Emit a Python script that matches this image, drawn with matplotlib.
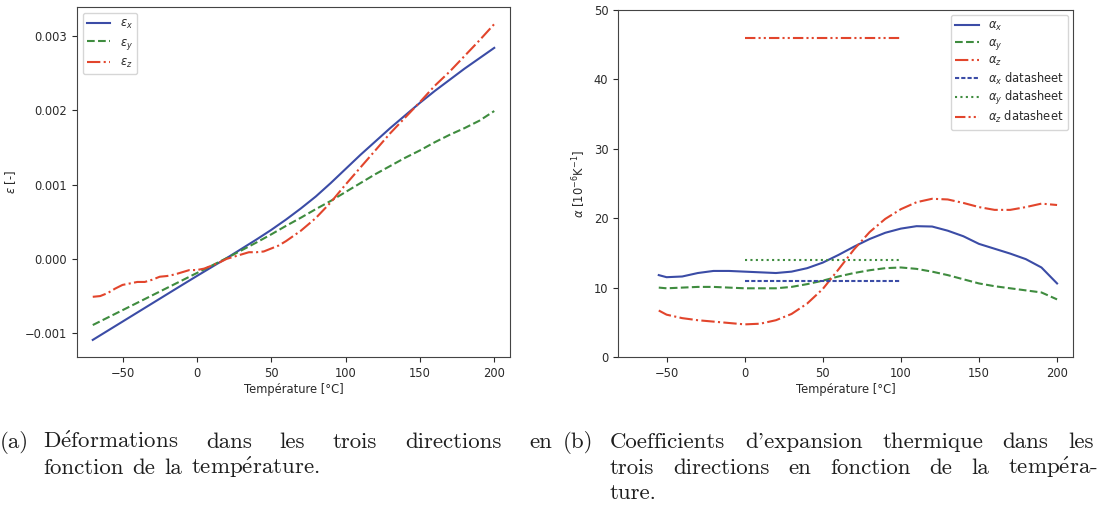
import numpy as np
import matplotlib
matplotlib.use("Agg")
import matplotlib.pyplot as plt

# ---------------- data ----------------
T_eps = [-70, -60, -50, -40, -30, -20, -10, 0, 10, 20, 30, 40, 50, 60, 70, 80, 90,
         100, 110, 120, 130, 140, 150, 160, 170, 180, 190, 200]
eps_x = [-1.09, -0.967, -0.844, -0.721, -0.598, -0.475, -0.352, -0.23, -0.11, 0.01,
         0.135, 0.26, 0.39, 0.53, 0.68, 0.84, 1.02, 1.21, 1.40, 1.58, 1.76, 1.93,
         2.10, 2.26, 2.41, 2.56, 2.70, 2.84]
eps_y = [-0.89, -0.79, -0.69, -0.59, -0.49, -0.39, -0.29, -0.19, -0.09, 0.01,
         0.115, 0.22, 0.33, 0.445, 0.555, 0.67, 0.78, 0.90, 1.02, 1.14, 1.25,
         1.36, 1.46, 1.57, 1.67, 1.76, 1.86, 1.99]
T_epsz = [-70, -65, -60, -55, -50, -45, -40, -35, -30, -25, -20, -15, -10, -5, 0,
          5, 10, 15, 20, 25, 30, 35, 40, 45, 50, 55, 60, 70, 80, 90, 100, 110, 120,
          130, 140, 150, 160, 170, 180, 190, 200]
eps_z = [-0.51, -0.50, -0.46, -0.40, -0.35, -0.33, -0.31, -0.31, -0.28, -0.24,
         -0.23, -0.21, -0.18, -0.15, -0.15, -0.13, -0.09, -0.05, 0.0, 0.03, 0.06,
         0.09, 0.09, 0.10, 0.14, 0.18, 0.24, 0.38, 0.55, 0.76, 1.00, 1.23, 1.46,
         1.69, 1.90, 2.11, 2.33, 2.52, 2.73, 2.94, 3.16]

T_alpha = [-55, -50, -40, -30, -20, -10, 0, 10, 20, 30, 40, 50, 60, 70, 80, 90, 100,
           110, 120, 130, 140, 150, 160, 170, 180, 190, 200]
alpha_x = [11.8, 11.5, 11.6, 12.1, 12.4, 12.4, 12.3, 12.2, 12.1, 12.3, 12.8, 13.6,
           14.7, 15.9, 17.0, 17.9, 18.5, 18.85, 18.8, 18.2, 17.4, 16.3, 15.6, 14.9,
           14.1, 12.9, 10.6]
alpha_y = [10.0, 9.9, 10.0, 10.1, 10.1, 10.0, 9.9, 9.9, 9.9, 10.1, 10.5, 11.0,
           11.6, 12.1, 12.5, 12.8, 12.9, 12.7, 12.3, 11.8, 11.2, 10.6, 10.2, 9.9,
           9.6, 9.3, 8.3]
alpha_z = [6.7, 6.1, 5.6, 5.3, 5.1, 4.9, 4.7, 4.8, 5.3, 6.2, 7.7, 9.8, 12.6, 15.5,
           18.0, 19.9, 21.3, 22.3, 22.8, 22.7, 22.2, 21.6, 21.2, 21.2, 21.6, 22.1, 21.9]

T_ds = [0, 100]
alpha_x_ds = [11, 11]
alpha_y_ds = [14, 14]
alpha_z_ds = [46, 46]

eps_ticks = [-0.001, 0.0, 0.001, 0.002, 0.003]
eps_ticklabels = ['\u22120.001', '0.000', '0.001', '0.002', '0.003']
T_ticks = [-50, 0, 50, 100, 150, 200]
alpha_ticks = [0, 10, 20, 30, 40, 50]

# ---------------- style ----------------
BLUE = '#3b4ca6'
GREEN = '#3f8c3f'
RED = '#e2452c'
TXT = '#2a2a2a'
FS = 8.3

plt.rcParams.update({
    'font.family': ['DejaVu Sans'],
    'font.size': FS,
    'text.color': TXT,
    'axes.labelcolor': TXT,
    'xtick.color': TXT,
    'ytick.color': TXT,
    'axes.edgecolor': '#444444',
})

W, H = 1110, 514
fig = plt.figure(figsize=(W / 100, H / 100), dpi=100)

ax1 = fig.add_axes([77 / W, 1 - 357 / H, 433 / W, 350 / H])
ax2 = fig.add_axes([618 / W, 1 - 357 / H, 455 / W, 347 / H])

lw = 1.5
ax1.plot(T_eps, np.array(eps_x) * 1e-3, color=BLUE, lw=lw, ls='-', label=r'$\varepsilon_x$')
ax1.plot(T_eps, np.array(eps_y) * 1e-3, color=GREEN, lw=lw, ls='--', label=r'$\varepsilon_y$')
ax1.plot(T_epsz, np.array(eps_z) * 1e-3, color=RED, lw=lw, ls='-.', label=r'$\varepsilon_z$')
ax1.set_xlim(-80.6, 210.6)
ax1.set_ylim(-0.00132, 0.00339)
ax1.set_xticks(T_ticks)
ax1.set_yticks(eps_ticks)
ax1.set_yticklabels(eps_ticklabels)
ax1.set_xlabel('Température [°C]', labelpad=2)
ax1.set_ylabel(r'$\varepsilon$ [-]', labelpad=5)
ax1.legend(loc='upper left', fontsize=FS, handlelength=2.0, labelspacing=0.35)

ax2.plot(T_alpha, alpha_x, color=BLUE, lw=lw, ls='-', label=r'$\alpha_x$')
ax2.plot(T_alpha, alpha_y, color=GREEN, lw=lw, ls='--', label=r'$\alpha_y$')
ax2.plot(T_alpha, alpha_z, color=RED, lw=lw, ls='-.', label=r'$\alpha_z$')
ax2.plot(T_ds, alpha_x_ds, color=BLUE, lw=lw, ls=(0, (2, 1)), label=r'$\alpha_x$ datasheet')
ax2.plot(T_ds, alpha_y_ds, color=GREEN, lw=lw, ls=(0, (1, 1.6)), label=r'$\alpha_y$ datasheet')
ax2.plot(T_ds, alpha_z_ds, color=RED, lw=lw, ls=(0, (5, 1.5, 1, 1.5, 1, 1.5)),
         label=r'$\alpha_z$ datasheet')
ax2.set_xlim(-81.1, 210.2)
ax2.set_ylim(0, 50)
ax2.set_xticks(T_ticks)
ax2.set_yticks(alpha_ticks)
ax2.set_xlabel('Température [°C]', labelpad=2)
ax2.set_ylabel(r'$\alpha$ [$10^{-6}$K$^{-1}$]', labelpad=4)
ax2.legend(loc='upper right', fontsize=FS, handlelength=2.0, labelspacing=0.2,
           borderaxespad=0.4)

# ---------------- captions (justified words) ----------------
CAP_FS = 16.5
E = r'$\mathrm{\acute{e}}$'


def put_words(words, x0, yb, x_end=None, last_start=None, gap=None):
    """Place words on a baseline; justify between x0 and x_end (right edge of
    last word) or last_start (left edge of last word)."""
    texts = [fig.text(0, 1 - yb / H, w, fontsize=CAP_FS, family='cmr10',
                      math_fontfamily='cm', va='baseline', ha='left',
                      color='#1e1e1e') for w in words]
    r = fig.canvas.get_renderer()
    widths = [t.get_window_extent(r).width for t in texts]
    n = len(words)
    if gap is None:
        if x_end is not None:
            gap = (x_end - x0 - sum(widths)) / (n - 1)
        else:
            gap = (last_start - x0 - sum(widths[:-1])) / (n - 1)
    x = x0
    for t, wd in zip(texts, widths):
        t.set_x(x / W)
        x += wd + gap


Y1, Y2, Y3 = 448, 474, 499
put_words(["(a)"], 0, Y1, gap=0)
put_words(["D" + E + "formations", "dans", "les", "trois", "directions", "en"],
          43, Y1, x_end=552)
put_words(["fonction", "de", "la", "temp" + E + "rature."], 43, Y2, gap=9)
put_words(["(b)"], 563, Y1, gap=0)
put_words(["Coefficients", "d'expansion", "thermique", "dans", "les"],
          610, Y1, last_start=1068)
put_words(["trois", "directions", "en", "fonction", "de", "la", "temp" + E + "ra-"],
          610, Y2, last_start=1008)
put_words(["ture."], 610, Y3, gap=0)

fig.savefig('out.png', dpi=100)
